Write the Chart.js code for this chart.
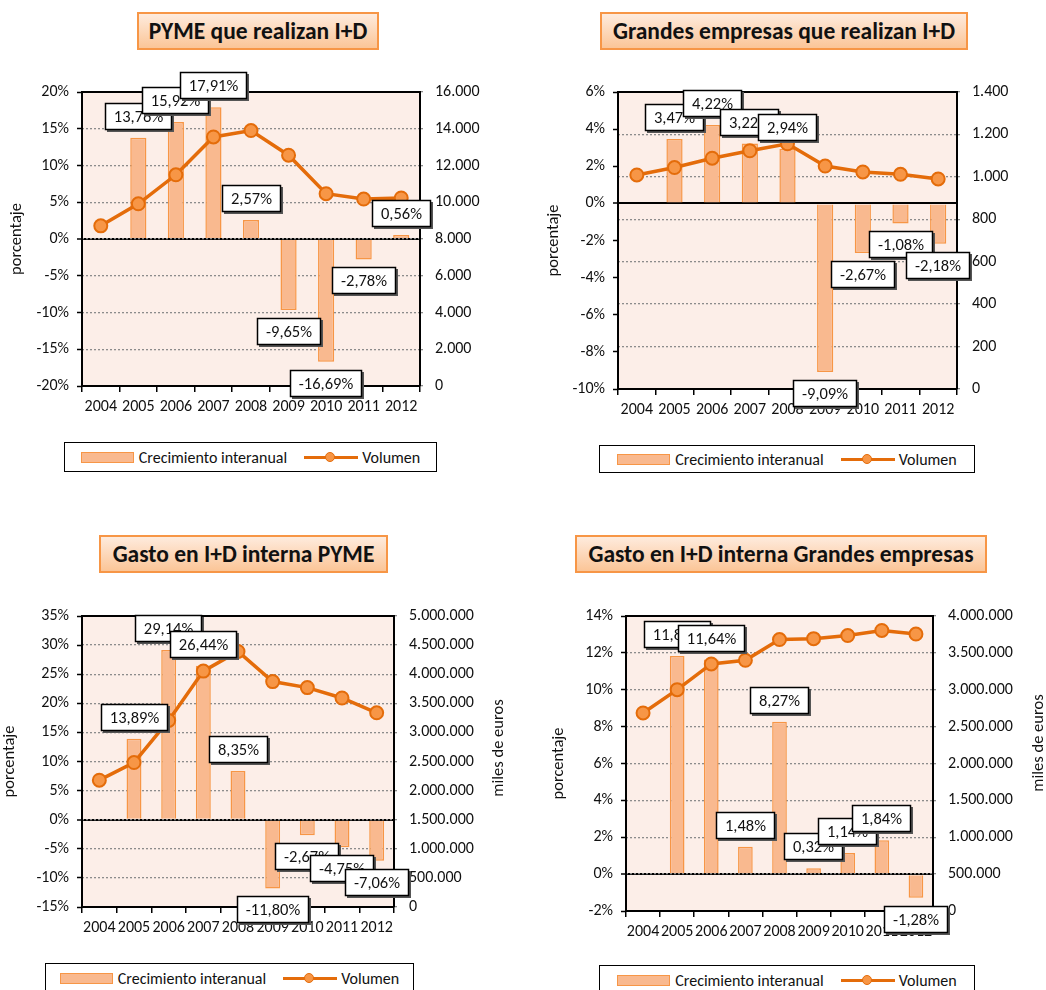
<!DOCTYPE html>
<html>
<head>
<meta charset="utf-8">
<script src="https://cdn.jsdelivr.net/npm/chart.js@4.4.0/dist/chart.umd.min.js"></script>
<style>
  body { margin: 0; background: #fff; width: 1046px; height: 990px; position: relative; overflow: hidden;
         font-family: Carlito, Lato, "Open Sans", sans-serif; color: #111; }
  canvas { position: absolute; }
  .title { position: absolute; box-sizing: border-box; border: 2px solid #F79646;
           background: linear-gradient(#FEEBDD, #FBC597); font-weight: bold; font-size: 23.5px;
           display: flex; align-items: center; justify-content: center; white-space: nowrap; }
  .legend { position: absolute; box-sizing: border-box; border: 1.5px solid #000; background: #fff;
            display: flex; align-items: center; justify-content: center; font-size: 16px; white-space: nowrap; }
  .sw-bar { width: 51px; height: 9px; background: #F9B98F; border: 1.5px solid #F79646; margin-right: 5px; }
  .sw-line { position: relative; width: 54px; height: 3px; background: #E46C0A; margin: 0 4px 0 17px; }
  .sw-line::after { content: ''; position: absolute; left: 21px; top: -4px; width: 8px; height: 8px;
                    border-radius: 50%; background: #F79646; border: 1.5px solid #E46C0A; }
</style>
</head>
<body>
<canvas id="c1" width="523" height="375" style="left:0;top:55px"></canvas>
<canvas id="c2" width="516" height="375" style="left:530px;top:55px"></canvas>
<canvas id="c3" width="523" height="375" style="left:0;top:580px"></canvas>
<canvas id="c4" width="516" height="375" style="left:530px;top:580px"></canvas>
<script>
// ---- data ----
const years = ['2004', '2005', '2006', '2007', '2008', '2009', '2010', '2011', '2012'];
const seriesNames = ['Crecimiento interanual', 'Volumen'];
const panelTitles = ['PYME que realizan I+D', 'Grandes empresas que realizan I+D',
                     'Gasto en I+D interna PYME', 'Gasto en I+D interna Grandes empresas'];

// growth % (bars) and volume (line) per panel
const pymeEmpresasGrowth = [null, 13.76, 15.92, 17.91, 2.57, -9.65, -16.69, -2.78, 0.56];
const pymeEmpresasVolume = [8717, 9916, 11495, 13554, 13902, 12561, 10465, 10174, 10231];
const grandesEmpresasGrowth = [null, 3.47, 4.22, 3.22, 2.94, -9.09, -2.67, -1.08, -2.18];
const grandesEmpresasVolume = [1009, 1044, 1088, 1123, 1156, 1051, 1023, 1012, 990];
const pymeGastoGrowth = [null, 13.89, 29.14, 26.44, 8.35, -11.80, -2.67, -4.75, -7.06];
const pymeGastoVolume = [2179000, 2482000, 3205000, 4053000, 4391000, 3873000, 3770000, 3591000, 3337000];
const grandesGastoGrowth = [null, 11.83, 11.64, 1.48, 8.27, 0.32, 1.14, 1.84, -1.28];
const grandesGastoVolume = [2685000, 3001000, 3350000, 3400000, 3681000, 3693000, 3735000, 3804000, 3755000];

// axis ticks
const pymeEmpresasPctTicks = [-20, -15, -10, -5, 0, 5, 10, 15, 20];
const pymeEmpresasVolTicks = [0, 2000, 4000, 6000, 8000, 10000, 12000, 14000, 16000];
const grandesEmpresasPctTicks = [-10, -8, -6, -4, -2, 0, 2, 4, 6];
const grandesEmpresasVolTicks = [0, 200, 400, 600, 800, 1000, 1200, 1400];
const pymeGastoPctTicks = [-15, -10, -5, 0, 5, 10, 15, 20, 25, 30, 35];
const pymeGastoVolTicks = [0, 500000, 1000000, 1500000, 2000000, 2500000, 3000000, 3500000, 4000000, 4500000, 5000000];
const grandesGastoPctTicks = [-2, 0, 2, 4, 6, 8, 10, 12, 14];
const grandesGastoVolTicks = [0, 500000, 1000000, 1500000, 2000000, 2500000, 3000000, 3500000, 4000000];

const leftAxisTitle = 'porcentaje';
const rightAxisTitle = 'miles de euros';

// ---- layout (page coords) ----
const panels = [
  { id: 'c1', canvas: { x: 0, y: 55, w: 523, h: 375 }, plot: { l: 82, t: 92, r: 420, b: 386 },
    growth: pymeEmpresasGrowth, volume: pymeEmpresasVolume, pct: pymeEmpresasPctTicks, vol: pymeEmpresasVolTicks,
    leftTitleX: 17, rightTitle: null,
    title: { x: 137, y: 12, w: 242, h: 38 }, legend: { x: 64, y: 442, w: 373, h: 30 } },
  { id: 'c2', canvas: { x: 530, y: 55, w: 516, h: 375 }, plot: { l: 618, t: 92, r: 957, b: 389 },
    growth: grandesEmpresasGrowth, volume: grandesEmpresasVolume, pct: grandesEmpresasPctTicks, vol: grandesEmpresasVolTicks,
    leftTitleX: 554, rightTitle: null,
    title: { x: 600, y: 12, w: 368, h: 38 }, legend: { x: 599, y: 445, w: 376, h: 28 } },
  { id: 'c3', canvas: { x: 0, y: 580, w: 523, h: 375 }, plot: { l: 82, t: 616, r: 394, b: 907 },
    growth: pymeGastoGrowth, volume: pymeGastoVolume, pct: pymeGastoPctTicks, vol: pymeGastoVolTicks,
    leftTitleX: 10, rightTitle: { x: 499, y: 748 },
    title: { x: 99, y: 535, w: 289, h: 38 }, legend: { x: 45, y: 963, w: 369, h: 30 } },
  { id: 'c4', canvas: { x: 530, y: 580, w: 516, h: 375 }, plot: { l: 626, t: 616, r: 933, b: 911 },
    growth: grandesGastoGrowth, volume: grandesGastoVolume, pct: grandesGastoPctTicks, vol: grandesGastoVolTicks,
    leftTitleX: 559, rightTitle: { x: 1039, y: 743 },
    title: { x: 575, y: 535, w: 412, h: 38 }, legend: { x: 599, y: 965, w: 376, h: 30 } }
];

const FONT = 'Carlito, Lato, "Open Sans", sans-serif';
Chart.defaults.font.family = FONT;
Chart.defaults.color = '#111';

const thousands = v => String(v).replace(/\B(?=(\d{3})+(?!\d))/g, '.');
const pctLabel = v => v.toFixed(2).replace('.', ',') + '%';

// plot background, top border, right axis title and the boxed data labels
const panelDecor = {
  id: 'panelDecor',
  beforeDraw(chart) {
    const { ctx, chartArea: a } = chart;
    ctx.save();
    ctx.fillStyle = '#FCEEE8';
    ctx.fillRect(a.left, a.top, a.width, a.height);
    ctx.restore();
  },
  afterDraw(chart, args, opts) {
    const { ctx, chartArea: a } = chart;
    ctx.save();
    ctx.strokeStyle = '#000';
    ctx.lineWidth = 2;
    ctx.beginPath();
    ctx.moveTo(a.left - 1, a.top);
    ctx.lineTo(a.right + 1, a.top);
    ctx.stroke();

    if (opts.rightTitle) {
      ctx.save();
      ctx.translate(opts.rightTitle.x, opts.rightTitle.y);
      ctx.rotate(-Math.PI / 2);
      ctx.font = '16.5px ' + FONT;
      ctx.fillStyle = '#111';
      ctx.textAlign = 'center';
      ctx.textBaseline = 'middle';
      ctx.fillText(rightAxisTitle, 0, 0);
      ctx.restore();
    }

    const meta = chart.getDatasetMeta(1);
    const vals = chart.data.datasets[1].data;
    ctx.font = '16.5px ' + FONT;
    ctx.textAlign = 'center';
    ctx.textBaseline = 'middle';
    meta.data.forEach((bar, i) => {
      const v = vals[i];
      if (v == null) return;
      const text = pctLabel(v);
      const w = Math.round(ctx.measureText(text).width + 18), h = 27;
      const top = Math.min(bar.y, bar.base), bot = Math.max(bar.y, bar.base);
      const cy = v >= 0 ? top - 8 - h / 2 : bot + 8 + h / 2;
      const x0 = Math.round(bar.x - w / 2), y0 = Math.round(cy - h / 2);
      ctx.fillStyle = '#555';
      ctx.fillRect(x0 + 2, y0 + 2, w, h);
      ctx.fillStyle = '#fff';
      ctx.fillRect(x0, y0, w, h);
      ctx.strokeStyle = '#000';
      ctx.lineWidth = 1.5;
      ctx.strokeRect(x0 + 0.5, y0 + 0.5, w - 1, h - 1);
      ctx.fillStyle = '#111';
      ctx.fillText(text, x0 + w / 2, y0 + h / 2 + 1);
    });
    ctx.restore();
  }
};

panels.forEach((p, idx) => {
  const c = p.canvas, pl = p.plot;
  const leftW = pl.l - c.x, rightW = c.x + c.w - pl.r, bottomH = c.y + c.h - pl.b;

  // title box
  const t = document.createElement('div');
  t.className = 'title';
  Object.assign(t.style, { left: p.title.x + 'px', top: p.title.y + 'px', width: p.title.w + 'px', height: p.title.h + 'px' });
  t.textContent = panelTitles[idx];
  document.body.appendChild(t);

  // legend box
  const lg = document.createElement('div');
  lg.className = 'legend';
  Object.assign(lg.style, { left: p.legend.x + 'px', top: p.legend.y + 'px', width: p.legend.w + 'px', height: p.legend.h + 'px' });
  lg.innerHTML = '<span class="sw-bar"></span><span>' + seriesNames[0] + '</span><span class="sw-line"></span><span>' + seriesNames[1] + '</span>';
  document.body.appendChild(lg);

  new Chart(document.getElementById(p.id), {
    type: 'bar',
    data: {
      labels: years,
      datasets: [
        {
          type: 'line', label: seriesNames[1], data: p.volume, yAxisID: 'y2', order: 0,
          borderColor: '#E46C0A', borderWidth: 3.5, pointRadius: 6.5, pointBorderWidth: 2,
          pointBackgroundColor: '#F79646', pointBorderColor: '#E46C0A', tension: 0
        },
        {
          type: 'bar', label: seriesNames[0], data: p.growth, yAxisID: 'y', order: 1,
          backgroundColor: '#F9B98F', borderColor: '#F79646', borderWidth: 1.5,
          barPercentage: 0.43, categoryPercentage: 1.0
        }
      ]
    },
    options: {
      responsive: false, animation: false,
      layout: { padding: { left: 0, right: 0, top: pl.t - c.y, bottom: 0 } },
      plugins: {
        legend: { display: false }, tooltip: { enabled: false },
        panelDecor: { rightTitle: p.rightTitle ? { x: p.rightTitle.x - c.x, y: p.rightTitle.y - c.y } : null }
      },
      scales: {
        x: {
          offset: true,
          grid: { offset: true, drawOnChartArea: false, drawTicks: true, tickLength: 6, color: '#000', lineWidth: 1.5 },
          border: { color: '#000', width: 2 },
          ticks: { autoSkip: false, maxRotation: 0, padding: 5, font: { size: 16 } },
          afterFit(s) { s.height = bottomH; }
        },
        y: {
          position: 'left', min: p.pct[0], max: p.pct[p.pct.length - 1],
          ticks: { stepSize: p.pct[1] - p.pct[0], padding: 8, font: { size: 16 }, callback: v => v + '%' },
          grid: {
            color: g => (g.tick && g.tick.value === 0) ? '#000' : 'rgba(0,0,0,0)',
            lineWidth: g => (g.tick && g.tick.value === 0) ? 2 : 1,
            tickColor: '#000', tickLength: 5, tickWidth: 1.5
          },
          border: { color: '#000', width: 2 },
          title: { display: true, text: leftAxisTitle, font: { size: 16.5 }, padding: { top: p.leftTitleX - c.x - 10 } },
          afterFit(s) { s.width = leftW; }
        },
        y2: {
          position: 'right', min: p.vol[0], max: p.vol[p.vol.length - 1],
          ticks: { stepSize: p.vol[1] - p.vol[0], padding: 10, font: { size: 16 }, callback: v => thousands(v) },
          grid: { color: '#8C8C8C', lineWidth: 1.3, tickColor: '#8C8C8C', tickLength: 5, tickBorderDash: [2, 2] },
          border: { color: '#000', width: 2, dash: [2, 2] },
          afterFit(s) { s.width = rightW; }
        }
      }
    },
    plugins: [panelDecor]
  });
});
</script>
</body>
</html>
